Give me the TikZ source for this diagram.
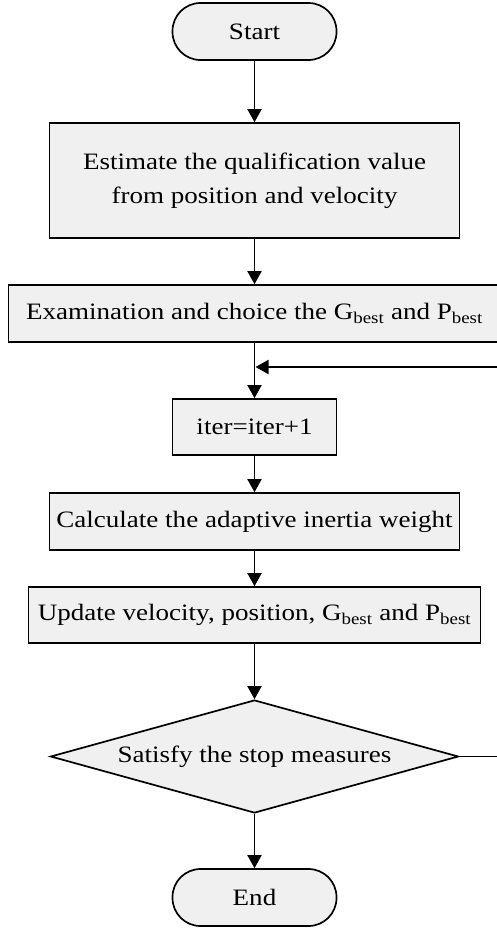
\documentclass[tikz,border=0pt]{standalone}
\usepackage{fontspec}
\setmainfont[FakeStretch=1.15]{Liberation Serif}
\usetikzlibrary{shapes.geometric,arrows.meta}
\begin{document}
\begin{tikzpicture}[x=1pt,y=1pt,
  every node/.style={font=\fontsize{23.5}{34}\selectfont, align=center, inner sep=0pt},
  boxstyle/.style={draw, line width=1.7pt, fill=black!6, rectangle},
  termstyle/.style={draw, line width=1.7pt, fill=black!6, rectangle, rounded corners=28pt, minimum width=164pt, minimum height=57pt},
  decstyle/.style={draw, line width=1.7pt, fill=black!6, diamond, aspect=3.6, minimum width=408pt, minimum height=113pt},
  flow/.style={line width=1.9pt, -{Triangle[length=13pt,width=14pt]}}]
\useasboundingbox (0,0) rectangle (496,-929);
\node[termstyle] (start) at (254.5,-31.5) {Start};
\node[boxstyle, minimum width=410pt, minimum height=115pt] (b1) at (254.5,-180.5) {Estimate the qualification value\\from position and velocity};
\node[boxstyle, minimum width=492pt, minimum height=57pt] (b2) at (254.5,-313.5) {Examination and choice the G\textsubscript{best} and P\textsubscript{best}};
\node[boxstyle, minimum width=164pt, minimum height=56pt] (iter) at (254.5,-427) {iter=iter+1};
\node[boxstyle, minimum width=410pt, minimum height=57pt] (calc) at (254.5,-521.5) {Calculate the adaptive inertia weight};
\node[boxstyle, minimum width=452pt, minimum height=56pt] (upd) at (254.5,-615) {Update velocity, position, G\textsubscript{best} and P\textsubscript{best}};
\node[decstyle] (dec) at (254.5,-756.5) {Satisfy the stop measures};
\node[termstyle] (end) at (254.5,-897.5) {End};
\coordinate (fbA) at (503,-756.5);
\coordinate (fbB) at (503,-367);
\coordinate (fbJ) at (255.5,-367);
\draw[flow] (start) -- (b1);
\draw[flow] (b1) -- (b2);
\draw[flow] (b2) -- (iter);
\draw[flow] (iter) -- (calc);
\draw[flow] (calc) -- (upd);
\draw[flow] (upd) -- (dec);
\draw[flow] (dec) -- (end);
\draw[flow] (dec.east) -- (fbA) -- (fbB) -- (fbJ);
\end{tikzpicture}
\end{document}
